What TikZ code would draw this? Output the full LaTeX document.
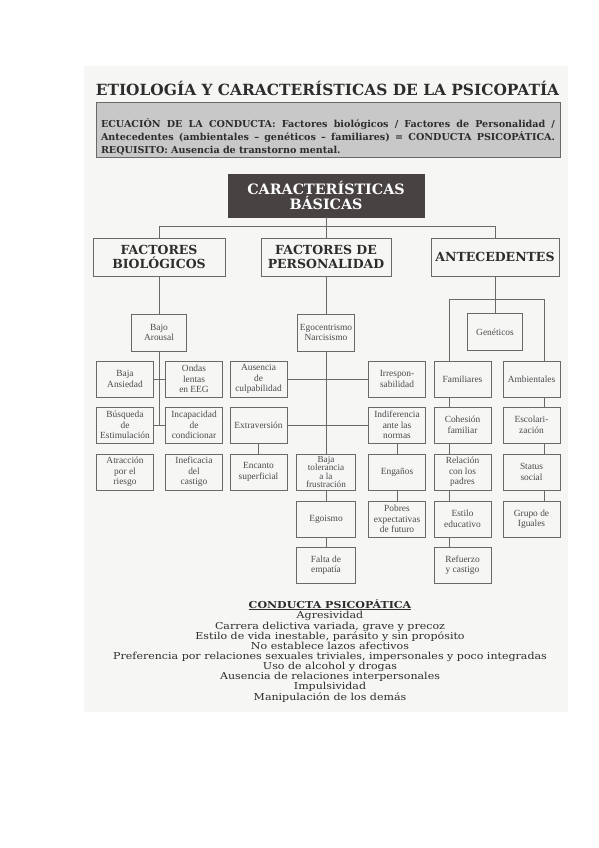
\documentclass[tikz,border=0pt]{standalone}
\usepackage{fontspec}
\setmainfont{Liberation Serif}
\newfontfamily\bk{DejaVu Serif}
\definecolor{scanbg}{RGB}{246,246,245}
\definecolor{lin}{RGB}{105,105,105}
\definecolor{txt}{RGB}{45,45,45}
\definecolor{stxt}{RGB}{75,75,75}
\definecolor{hdrfill}{RGB}{200,200,200}
\definecolor{darkbox}{RGB}{72,66,66}
\tikzset{
  sbox/.style={draw=lin, line width=0.7pt, fill=scanbg, text=stxt, minimum width=57pt,
    minimum height=36pt, inner sep=1pt, align=center, font=\fontsize{9.4}{10.5}\selectfont},
  bbox/.style={draw=lin, line width=0.8pt, fill=scanbg, text=txt, minimum height=38pt,
    inner sep=1pt, align=center, font=\bk\bfseries\fontsize{12.5}{14}\selectfont},
  conn/.style={draw=lin, line width=0.7pt},
}
\newcommand{\fullline}[1]{\leavevmode\hbox to 454pt{\spaceskip=0.3em plus 1fil\relax #1}}
\begin{document}
\begin{tikzpicture}[x=1pt,y=-1pt]
\path[use as bounding box, fill=white] (0,0) rectangle (599,848);
\fill[scanbg] (84,66) rectangle (568,712);

% title and header
\node[font=\bk\bfseries\fontsize{15.4}{17}\selectfont, text=txt, inner sep=0pt] (title) at (327.5,88) {ETIOLOGÍA Y CARACTERÍSTICAS DE LA PSICOPATÍA};
\node[draw=lin, line width=0.8pt, fill=hdrfill, minimum width=464pt, minimum height=55pt, inner sep=0pt] (hdr) at (328,129.5) {};
\node[inner sep=0pt, text=txt, font=\bk\bfseries\fontsize{9.6}{12.3}\selectfont, align=left, text width=454pt] (hdrtext) at (328,137)
  {\fullline{ECUACIÓN DE LA CONDUCTA: Factores biológicos / Factores de Personalidad /}\\
   \fullline{Antecedentes (ambientales – genéticos – familiares) = CONDUCTA PSICOPÁTICA.}\\[1pt]
   REQUISITO: Ausencia de transtorno mental.};

% top level
\node[draw=darkbox, fill=darkbox, text=white, minimum width=196pt, minimum height=43pt, inner sep=1pt, align=center,
  font=\bk\bfseries\fontsize{14.3}{15.5}\selectfont] (carac) at (326,195.5) {CARACTERÍSTICAS\\BÁSICAS};
\node[bbox, minimum width=132pt] (biol) at (159,257) {FACTORES\\BIOLÓGICOS};
\node[bbox, minimum width=130pt] (pers) at (326,257) {FACTORES DE\\PERSONALIDAD};
\node[bbox, minimum width=128pt] (ante) at (495,257) {ANTECEDENTES};

% level 2
\node[sbox, minimum width=55pt, minimum height=37pt] (arousal) at (159,332.5) {Bajo\\Arousal};
\node[sbox, minimum width=57pt, minimum height=37pt] (ego) at (326,332.5) {Egocentrismo\\Narcisismo};
\node[sbox, minimum width=55pt, minimum height=37pt] (gen) at (495,332) {Genéticos};

% row 3
\node[sbox] (bajaans) at (125,379) {Baja\\Ansiedad};
\node[sbox] (ondas) at (194,379) {Ondas\\lentas\\en EEG};
\node[sbox] (ausencia) at (258.5,379) {Ausencia\\de\\culpabilidad};
\node[sbox] (irresp) at (397,379) {Irrespon-\\sabilidad};
\node[sbox] (famil) at (462.5,379) {Familiares};
\node[sbox] (ambien) at (531.5,379) {Ambientales};
% row 4
\node[sbox] (busq) at (125,425) {Búsqueda\\de\\Estimulación};
\node[sbox] (incap) at (194,425) {Incapacidad\\de\\condicionar};
\node[sbox] (extrav) at (258.5,425) {Extraversión};
\node[sbox] (indif) at (397,425) {Indiferencia\\ante las\\normas};
\node[sbox] (cohes) at (462.5,425) {Cohesión\\familiar};
\node[sbox] (escol) at (531.5,425) {Escolari-\\zación};
% row 5
\node[sbox] (atrac) at (125,472) {Atracción\\por el\\riesgo};
\node[sbox] (inef) at (194,472) {Ineficacia\\del\\castigo};
\node[sbox] (encanto) at (258.5,472) {Encanto\\superficial};
\node[sbox, minimum width=59pt, font=\fontsize{9.2}{8.6}\selectfont] (bajatol) at (326,472) {Baja\\tolerancia\\a la\\frustración};
\node[sbox] (engan) at (397,472) {Engaños};
\node[sbox] (relac) at (462.5,472) {Relación\\con los\\padres};
\node[sbox] (status) at (531.5,472) {Status\\social};
% row 6
\node[sbox, minimum width=59pt] (egoismo) at (326,519) {Egoismo};
\node[sbox] (pobres) at (397,519) {Pobres\\expectativas\\de futuro};
\node[sbox] (estilo) at (462.5,519) {Estilo\\educativo};
\node[sbox] (grupo) at (531.5,519) {Grupo de\\Iguales};
% row 7
\node[sbox, minimum width=59pt] (falta) at (326,565) {Falta de\\empatía};
\node[sbox] (refuerzo) at (462.5,565) {Refuerzo\\y castigo};

% connectors
\coordinate (hubL) at (159,226);
\coordinate (hubR) at (495,226);
\draw[conn] (carac.south) -- (pers.north);
\draw[conn] (biol.north) -- (hubL) -- (hubR) -- (ante.north);
\draw[conn] (biol.south) -- (arousal.north);
\coordinate (arEnd) at (159,425);
\draw[conn] (arousal.south) -- (arEnd);
\draw[conn] (bajaans.east) -- (ondas.west);
\draw[conn] (busq.east) -- (incap.west);
\draw[conn] (pers.south) -- (ego.north);
\draw[conn] (ego.south) -- (bajatol.north);
\draw[conn] (ausencia.east) -- (irresp.west);
\draw[conn] (extrav.east) -- (indif.west);
\draw[conn] (extrav.south) -- (encanto.north);
\draw[conn] (indif.south) -- (engan.north);
\draw[conn] (engan.south) -- (pobres.north);
\draw[conn] (bajatol.south) -- (egoismo.north);
\draw[conn] (egoismo.south) -- (falta.north);
\draw[conn] (ante.south) -- (gen.north);
\coordinate (gL) at (449,299);
\coordinate (gR) at (544,299);
\draw[conn] (gL) -- (gR);
\draw[conn] (gL) -- (gL |- famil.north);
\draw[conn] (gR) -- (gR |- ambien.north);
\draw[conn] (gL |- famil.south) -- (gL |- cohes.north);
\draw[conn] (gL |- cohes.south) -- (gL |- relac.north);
\draw[conn] (gL |- relac.south) -- (gL |- estilo.north);
\draw[conn] (gL |- estilo.south) -- (gL |- refuerzo.north);
\draw[conn] (gR |- ambien.south) -- (gR |- escol.north);
\draw[conn] (gR |- escol.south) -- (gR |- status.north);
\draw[conn] (gR |- status.south) -- (gR |- grupo.north);

% conduct list
\node[anchor=north, text=txt, inner sep=0pt, font=\bk\fontsize{9.6}{9.3}\selectfont] (conducta) at (330,599)
 {\scalebox{1.15}[1]{\begin{tabular}{@{}c@{}}
  \textbf{\underline{CONDUCTA PSICOPÁTICA}}\\[0.8pt]
  Agresividad\\
  Carrera delictiva variada, grave y precoz\\
  Estilo de vida inestable, parásito y sin propósito\\
  No establece lazos afectivos\\
  Preferencia por relaciones sexuales triviales, impersonales y poco integradas\\
  Uso de alcohol y drogas\\
  Ausencia de relaciones interpersonales\\
  Impulsividad\\
  Manipulación de los demás
 \end{tabular}}};
\end{tikzpicture}
\end{document}
